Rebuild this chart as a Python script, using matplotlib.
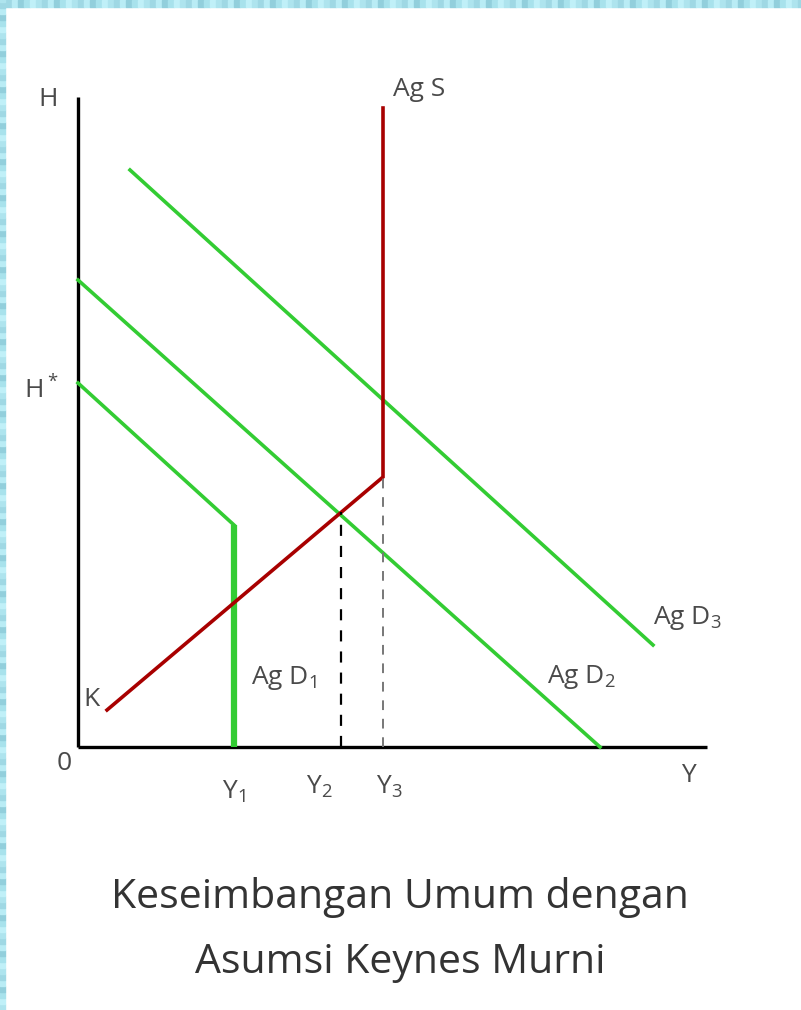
import matplotlib
matplotlib.use("Agg")
import matplotlib.pyplot as plt
from matplotlib.patches import Rectangle

plt.rcParams['font.family'] = ['Open Sans', 'DejaVu Sans']

# Output (Y) and price level (H) coordinates of each curve
ags_y = [29, 305, 305]
ags_h = [37, 270, 639]

agd1_y = [0, 156, 156]
agd1_h = [364, 222, 0]

agd2_y = [0, 522]
agd2_h = [467, 0]

agd3_y = [52, 575]
agd3_h = [577, 102]

y_ticks = {"1": 156, "2": 263, "3": 305}
axis_top = 650
axis_right = 629

title_lines = ["Keseimbangan Umum dengan", "Asumsi Keynes Murni"]

GREEN = "#33cc33"
RED = "#a80000"
TEXT = "#4a4a4a"

W, H = 801, 1010
fig = plt.figure(figsize=(W / 100, H / 100), dpi=100)
fig.patch.set_facecolor("white")

# decorative light-blue frame at top and left
frame_cols = ["#aee4ee", "#9fd8e4", "#b9ecf5", "#92cfdc", "#a8e2ec", "#c0f0f8"]
for i in range(0, W, 6):
    fig.patches.append(Rectangle((i / W, 1 - 7 / H), 6 / W, 7 / H,
                                 transform=fig.transFigure,
                                 color=frame_cols[(i * 7 // 6) % len(frame_cols)], zorder=0))
for j in range(0, H, 6):
    fig.patches.append(Rectangle((0, j / H), 5 / W, 6 / H,
                                 transform=fig.transFigure,
                                 color=frame_cols[(j * 5 // 6) % len(frame_cols)], zorder=0))

ax = fig.add_axes([0, 0, 1, 1])
ax.set_xlim(-78, W - 78)
ax.set_ylim(747 - H, 747)
ax.axis("off")

# axes
ax.plot([0, 0], [0, axis_top], color="black", lw=2.4, solid_capstyle="butt")
ax.plot([0, axis_right], [0, 0], color="black", lw=2.4, solid_capstyle="butt")

# demand curves
ax.plot(agd1_y[:2], agd1_h[:2], color=GREEN, lw=2.6)
ax.plot(agd1_y[1:], agd1_h[1:], color=GREEN, lw=4.5, solid_capstyle="butt")
ax.plot(agd2_y, agd2_h, color=GREEN, lw=2.6)
ax.plot(agd3_y, agd3_h, color=GREEN, lw=2.6)

# aggregate supply
ax.plot(ags_y, ags_h, color=RED, lw=2.6, solid_joinstyle="miter")

# equilibrium guide lines
s1 = (ags_h[1] - ags_h[0]) / (ags_y[1] - ags_y[0])
eq2_h = ags_h[0] + s1 * (y_ticks["2"] - ags_y[0])
ax.plot([y_ticks["2"]] * 2, [0, eq2_h], color="black", lw=1.6,
        dashes=(5, 4.5))
ax.plot([y_ticks["3"]] * 2, [0, ags_h[1]], color="#777777", lw=1.4,
        dashes=(5, 4.5))

fs = 19
kw = dict(fontsize=fs, color=TEXT, ha="center", va="center")
ax.text(-30, 647, "H", **kw)
ax.text(-37, 357, r"H$\mathregular{^*}$", **kw)
ax.text(-14, -17, "0", **kw)
ax.text(610, -29, "Y", **kw)
tick_offsets = {"1": (0, -45), "2": (-22, -40), "3": (6, -40)}
for sub, yv in y_ticks.items():
    dx, dy = tick_offsets[sub]
    ax.text(yv + dx, dy, r"Y$\mathregular{_%s}$" % sub, **kw)
ax.text(14, 47, "K", **kw)
ax.text(206, 69, r"Ag D$\mathregular{_1}$", **kw)
ax.text(503, 70, r"Ag D$\mathregular{_2}$", **kw)
ax.text(609, 129, r"Ag D$\mathregular{_3}$", **kw)
ax.text(341, 658, "Ag S", **kw)

ax.text(400 - 78, 747 - 898, title_lines[0], fontsize=29.5, color="#333333",
        ha="center", va="center")
ax.text(400 - 78, 747 - 963, title_lines[1], fontsize=29.5, color="#333333",
        ha="center", va="center")

fig.savefig("out.png", dpi=100, facecolor="white")
